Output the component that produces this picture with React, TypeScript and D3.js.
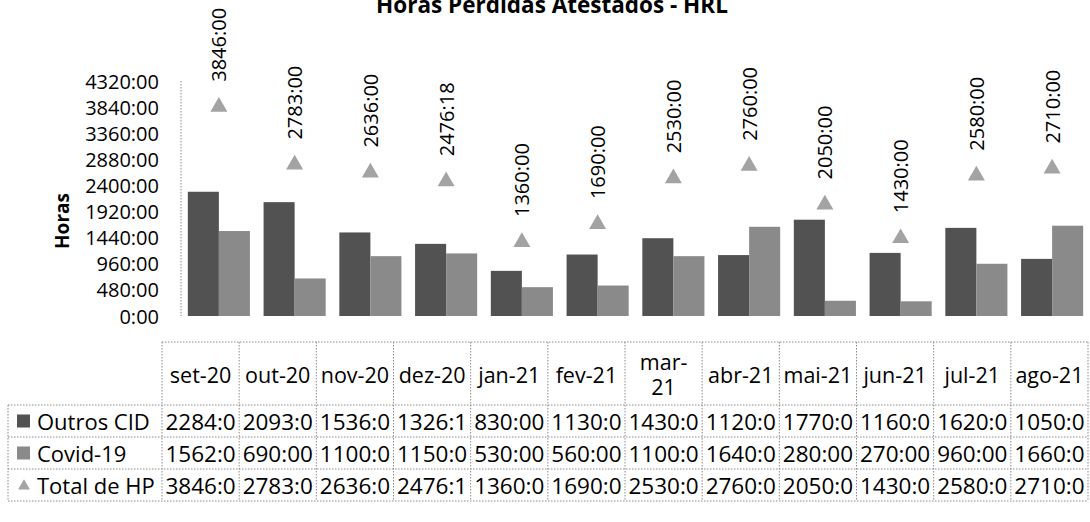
import React from "react";
import * as d3 from "d3";

const title = "Horas Perdidas Atestados - HRL";
const yAxisTitle = "Horas";
const categories = ["set-20", "out-20", "nov-20", "dez-20", "jan-21", "fev-21", "mar-21", "abr-21", "mai-21", "jun-21", "jul-21", "ago-21"];
// hours (decimal hours; .3 = 18 minutes)
const outrosCID = [2284, 2093, 1536, 1326.3, 830, 1130, 1430, 1120, 1770, 1160, 1620, 1050];
const covid19 = [1562, 690, 1100, 1150, 530, 560, 1100, 1640, 280, 270, 960, 1660];
const totalHP = [3846, 2783, 2636, 2476.3, 1360, 1690, 2530, 2760, 2050, 1430, 2580, 2710];
const seriesNames = ["Outros CID", "Covid-19", "Total de HP"];
const yMax = 4320;
const yStep = 480;

const W = 1090;
const H = 522;
const FONT = "'Open Sans', 'Noto Sans', sans-serif";
const DARK = "#525252";
const LIGHT = "#8a8a8a";
const TRI = "#a3a3a3";
const GRID = "#8a8a8a";

function fmt(v: number): string {
  const h = Math.floor(v);
  const m = Math.round((v - h) * 60);
  return `${h}:${String(m).padStart(2, "0")}`;
}

export default function App() {
  const plotLeft = 181;
  const plotRight = 1090;
  const y = d3.scaleLinear().domain([0, yMax]).range([316, 81]);
  const yTicks = d3.range(0, yMax + 1, yStep);
  const x0 = d3.scaleBand<string>().domain(categories).range([plotLeft, plotRight]).padding(0);
  const x1 = d3.scaleBand<string>().domain(["o", "c"]).range([0, x0.bandwidth()]).paddingInner(0).paddingOuter(0.22);

  // table geometry
  const tLeft = 162;
  const tRight = 1088;
  const tx = d3.scaleBand<string>().domain(categories).range([tLeft, tRight]);
  const headerTop = 342;
  const headerBottom = 405;
  const rowH = 32;
  const legendLeft = 8;
  const rowsData = [outrosCID, covid19, totalHP];

  const tri = d3.symbol().type(d3.symbolTriangle).size(125)();
  const triSmall = d3.symbol().type(d3.symbolTriangle).size(60)();

  const headerLines = (c: string) => (c === "mar-21" ? ["mar-", "21"] : [c]);

  const dotted = { stroke: GRID, strokeWidth: 1, strokeDasharray: "1.5,1.5" };

  return (
    <svg width={W} height={H} style={{ position: "absolute", left: 0, top: 0, background: "#fff" }} fontFamily={FONT}>
      <rect x={0} y={0} width={W} height={H} fill="#fff" />
      <text x={552} y={13} textAnchor="middle" fontWeight="bold" fontSize={22.5} fill="#000">{title}</text>

      {/* y axis */}
      <line x1={plotLeft} x2={plotLeft} y1={y(yMax)} y2={y(0)} {...dotted} />
      {yTicks.map((t) => (
        <text key={t} x={159} y={y(t)} textAnchor="end" dominantBaseline="central" fontSize={20} fill="#000">
          {fmt(t)}
        </text>
      ))}
      <text transform={`translate(62,221) rotate(-90)`} textAnchor="middle" dominantBaseline="central" fontWeight="bold" fontSize={19} fill="#000">
        {yAxisTitle}
      </text>

      {/* bars */}
      {categories.map((c, i) => (
        <g key={c} transform={`translate(${x0(c)},0)`}>
          <rect x={x1("o")} y={y(outrosCID[i])} width={x1.bandwidth()} height={y(0) - y(outrosCID[i])} fill={DARK} />
          <rect x={x1("c")} y={y(covid19[i])} width={x1.bandwidth()} height={y(0) - y(covid19[i])} fill={LIGHT} />
        </g>
      ))}

      {/* total markers + labels */}
      {categories.map((c, i) => {
        const cx = (x0(c) as number) + x0.bandwidth() / 2;
        const cy = y(totalHP[i]);
        return (
          <g key={c}>
            <path d={tri as string} transform={`translate(${cx},${cy})`} fill={TRI} />
            <text transform={`translate(${cx},${cy - 25}) rotate(-90)`} textAnchor="start" dominantBaseline="central" fontSize={20} fill="#000">
              {fmt(totalHP[i])}
            </text>
          </g>
        );
      })}

      {/* data table */}
      <g>
        <line x1={tLeft} x2={tRight} y1={headerTop} y2={headerTop} {...dotted} />
        {categories.map((c) => {
          const lines = headerLines(c);
          const cx = (tx(c) as number) + tx.bandwidth() / 2;
          const cy = (headerTop + headerBottom) / 2;
          return (
            <text key={c} x={cx} y={cy - ((lines.length - 1) * 25) / 2} textAnchor="middle" dominantBaseline="central" fontSize={21.5} fill="#000">
              {lines.map((l, k) => (
                <tspan key={k} x={cx} dy={k === 0 ? 0 : 25}>{l}</tspan>
              ))}
            </text>
          );
        })}
        {[0, 1, 2, 3].map((k) => (
          <line key={k} x1={legendLeft} x2={tRight} y1={headerBottom + k * rowH} y2={headerBottom + k * rowH} {...dotted} />
        ))}
        {[...categories.map((c) => tx(c) as number), tRight].map((xv, k) => (
          <line key={k} x1={xv} x2={xv} y1={headerTop} y2={headerBottom + 3 * rowH} {...dotted} />
        ))}
        <line x1={legendLeft} x2={legendLeft} y1={headerBottom} y2={headerBottom + 3 * rowH} {...dotted} />

        {rowsData.map((vals, r) => {
          const cy = headerBottom + r * rowH + rowH / 2;
          return (
            <g key={r}>
              {r < 2 ? (
                <rect x={17} y={cy - 6.5} width={13} height={13} fill={r === 0 ? DARK : LIGHT} />
              ) : (
                <path d={triSmall as string} transform={`translate(24,${cy + 1})`} fill={TRI} />
              )}
              <text x={37} y={cy} dominantBaseline="central" fontSize={22} fill="#000">{seriesNames[r]}</text>
              {categories.map((c, i) => (
                <text key={c} x={(tx(c) as number) + tx.bandwidth() / 2} y={cy} textAnchor="middle" dominantBaseline="central" fontSize={22.5} fill="#000">
                  {fmt(vals[i]).slice(0, 6)}
                </text>
              ))}
            </g>
          );
        })}
      </g>
    </svg>
  );
}
